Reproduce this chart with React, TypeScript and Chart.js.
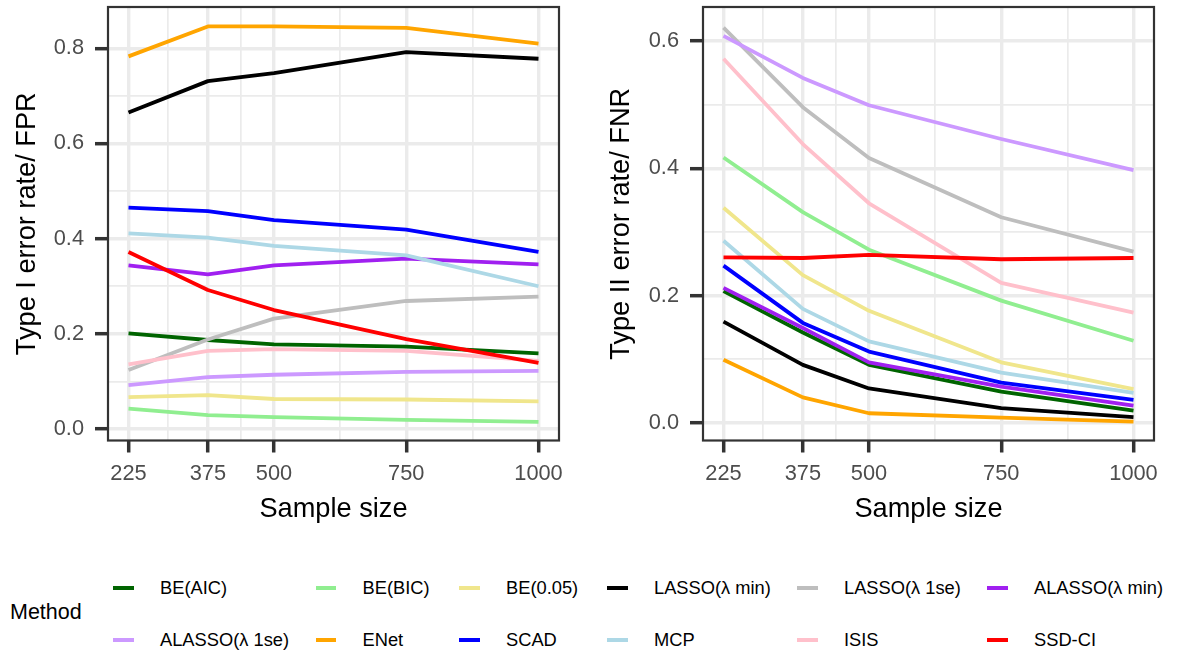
import React, { useEffect, useRef } from "react";
import { Chart, registerables } from "chart.js";

Chart.register(...registerables);

// ---------- data ----------
const sampleSizes = [225, 375, 500, 750, 1000];
const xMinorTicks = [300, 437.5, 625, 875];

const methodNames = [
  "BE(AIC)",
  "BE(BIC)",
  "BE(0.05)",
  "LASSO(λ min)",
  "LASSO(λ 1se)",
  "ALASSO(λ min)",
  "ALASSO(λ 1se)",
  "ENet",
  "SCAD",
  "MCP",
  "ISIS",
  "SSD-CI",
];

const methodColors = [
  "#006400",
  "#90EE90",
  "#F0E68C",
  "#000000",
  "#BEBEBE",
  "#A020F0",
  "#CC99FF",
  "#FFA500",
  "#0000FF",
  "#ADD8E6",
  "#FFC0CB",
  "#FF0000",
];

// Type I error rate / FPR
const fprBEAIC = [0.201, 0.187, 0.178, 0.173, 0.159];
const fprBEBIC = [0.043, 0.029, 0.025, 0.019, 0.015];
const fprBE005 = [0.067, 0.071, 0.063, 0.062, 0.058];
const fprLassoMin = [0.665, 0.731, 0.748, 0.792, 0.778];
const fprLasso1se = [0.124, 0.188, 0.232, 0.269, 0.278];
const fprAlassoMin = [0.344, 0.325, 0.344, 0.358, 0.346];
const fprAlasso1se = [0.092, 0.109, 0.114, 0.12, 0.122];
const fprENet = [0.783, 0.846, 0.846, 0.843, 0.81];
const fprSCAD = [0.465, 0.458, 0.439, 0.419, 0.372];
const fprMCP = [0.411, 0.402, 0.385, 0.365, 0.3];
const fprISIS = [0.136, 0.164, 0.168, 0.164, 0.143];
const fprSSDCI = [0.372, 0.292, 0.25, 0.189, 0.139];

// Type II error rate / FNR
const fnrBEAIC = [0.207, 0.142, 0.091, 0.049, 0.019];
const fnrBEBIC = [0.417, 0.331, 0.272, 0.192, 0.129];
const fnrBE005 = [0.338, 0.232, 0.176, 0.095, 0.053];
const fnrLassoMin = [0.159, 0.091, 0.054, 0.023, 0.009];
const fnrLasso1se = [0.621, 0.496, 0.416, 0.323, 0.269];
const fnrAlassoMin = [0.212, 0.149, 0.095, 0.057, 0.027];
const fnrAlasso1se = [0.608, 0.542, 0.499, 0.446, 0.397];
const fnrENet = [0.099, 0.04, 0.015, 0.008, 0.002];
const fnrSCAD = [0.247, 0.157, 0.112, 0.063, 0.036];
const fnrMCP = [0.286, 0.179, 0.128, 0.079, 0.047];
const fnrISIS = [0.572, 0.438, 0.345, 0.22, 0.173];
const fnrSSDCI = [0.26, 0.259, 0.264, 0.257, 0.259];

const fprSeries = [
  fprBEAIC, fprBEBIC, fprBE005, fprLassoMin, fprLasso1se, fprAlassoMin,
  fprAlasso1se, fprENet, fprSCAD, fprMCP, fprISIS, fprSSDCI,
];
const fnrSeries = [
  fnrBEAIC, fnrBEBIC, fnrBE005, fnrLassoMin, fnrLasso1se, fnrAlassoMin,
  fnrAlasso1se, fnrENet, fnrSCAD, fnrMCP, fnrISIS, fnrSSDCI,
];

const fprYTicks = [0, 0.2, 0.4, 0.6, 0.8];
const fnrYTicks = [0, 0.2, 0.4, 0.6];

// ---------- styling ----------
const FONT = "'Liberation Sans', Arial, Helvetica, sans-serif";
const GRID = "#EBEBEB";
const DARK = "#333333";
const TICK_TXT = "#4D4D4D";
const TICK_SIZE = 21.8;
const TITLE_SIZE = 27.2;

const near = (a: number, b: number) => Math.abs(a - b) < 1e-9;

const borderPlugin = {
  id: "panelBorder",
  afterDraw(chart: any) {
    const { ctx, chartArea } = chart;
    const { left, top, right, bottom } = chartArea;
    ctx.save();
    ctx.strokeStyle = DARK;
    ctx.lineWidth = 2.2;
    ctx.strokeRect(left, top, right - left, bottom - top);
    ctx.restore();
  },
};

type PanelProps = {
  left: number;
  width: number;
  height: number;
  series: number[][];
  yTitle: string;
  yMajor: number[];
  yMin: number;
  yMax: number;
  yAxisWidth: number;
  yTitlePad: number;
  padRight: number;
};

function Panel(p: PanelProps) {
  const ref = useRef<HTMLCanvasElement>(null);
  useEffect(() => {
    const canvas = ref.current;
    if (!canvas) return;
    const yMinor = p.yMajor.slice(0, -1).map((v, i) => (v + p.yMajor[i + 1]) / 2);
    const yAll = [...p.yMajor, ...yMinor].sort((a, b) => a - b);
    const xAll = [...sampleSizes, ...xMinorTicks].sort((a, b) => a - b);
    const isXMajor = (v: number) => sampleSizes.some((m) => near(m, v));
    const isYMajor = (v: number) => p.yMajor.some((m) => near(m, v));
    const n = methodNames.length;

    const datasets = methodNames.map((name, i) => ({
      label: name,
      data: sampleSizes.map((x, j) => ({ x, y: p.series[i][j] })),
      borderColor: methodColors[i],
      backgroundColor: methodColors[i],
      borderWidth: 3.8,
      pointRadius: 0,
      pointHoverRadius: 0,
      tension: 0,
      fill: false,
      borderJoinStyle: "round" as const,
      order: n - 1 - i,
    }));

    const chart = new Chart(canvas, {
      type: "line",
      data: { datasets },
      plugins: [borderPlugin],
      options: {
        animation: false,
        responsive: false,
        devicePixelRatio: 1,
        layout: { padding: { top: 7, right: p.padRight, left: 0, bottom: 0 } },
        plugins: { legend: { display: false }, tooltip: { enabled: false } },
        scales: {
          x: {
            type: "linear",
            min: 186.25,
            max: 1038.75,
            bounds: "data",
            afterBuildTicks: (s: any) => {
              s.ticks = xAll.map((v) => ({ value: v }));
            },
            afterFit: (s: any) => {
              s.height = p.height - 440.5;
              s.paddingLeft = 0;
              s.paddingRight = 0;
              s.paddingTop = 0;
              s.paddingBottom = 0;
            },
            ticks: {
              autoSkip: false,
              maxRotation: 0,
              minRotation: 0,
              padding: 8.4,
              color: TICK_TXT,
              font: { family: FONT, size: TICK_SIZE },
              callback: (v: any) => (isXMajor(Number(v)) ? String(v) : ""),
            },
            grid: {
              color: GRID,
              lineWidth: (c: any) => (c.tick && isXMajor(c.tick.value) ? 3.4 : 1.7),
              drawTicks: true,
              tickLength: 12,
              tickWidth: 3.5,
              tickColor: (c: any) =>
                c.tick && isXMajor(c.tick.value) ? DARK : "rgba(0,0,0,0)",
            },
            border: { display: false },
            title: {
              display: true,
              text: "Sample size",
              color: "#000000",
              font: { family: FONT, size: TITLE_SIZE },
              padding: { top: 0, bottom: 8.7 },
            },
          },
          y: {
            type: "linear",
            min: p.yMin,
            max: p.yMax,
            bounds: "data",
            afterBuildTicks: (s: any) => {
              s.ticks = yAll.map((v) => ({ value: v }));
            },
            afterFit: (s: any) => {
              s.width = p.yAxisWidth;
              s.paddingLeft = 0;
              s.paddingRight = 0;
              s.paddingTop = 0;
              s.paddingBottom = 0;
            },
            ticks: {
              autoSkip: false,
              padding: 11,
              color: TICK_TXT,
              font: { family: FONT, size: TICK_SIZE },
              callback: (v: any) => (isYMajor(Number(v)) ? Number(v).toFixed(1) : ""),
            },
            grid: {
              color: GRID,
              lineWidth: (c: any) => (c.tick && isYMajor(c.tick.value) ? 3.4 : 1.7),
              drawTicks: true,
              tickLength: 13,
              tickWidth: 3.5,
              tickColor: (c: any) =>
                c.tick && isYMajor(c.tick.value) ? DARK : "rgba(0,0,0,0)",
            },
            border: { display: false },
            title: {
              display: true,
              text: p.yTitle,
              color: "#000000",
              font: { family: FONT, size: TITLE_SIZE },
              padding: { top: p.yTitlePad, bottom: 0 },
            },
          },
        },
      } as any,
    });
    return () => chart.destroy();
  }, []);

  return (
    <canvas
      ref={ref}
      width={p.width}
      height={p.height}
      style={{
        position: "absolute",
        left: p.left,
        top: 0,
        width: p.width,
        height: p.height,
        display: "block",
      }}
    />
  );
}

const legendKeyLefts = [113, 315.5, 459, 607, 797, 987];
const legendRowCenters = [588, 640];

export default function App() {
  return (
    <div
      style={{
        position: "absolute",
        left: 0,
        top: 0,
        width: 1179,
        height: 651,
        background: "#FFFFFF",
        overflow: "hidden",
        fontFamily: FONT,
      }}
    >
      <Panel
        left={0}
        width={590}
        height={535}
        series={fprSeries}
        yTitle="Type I error rate/ FPR"
        yMajor={fprYTicks}
        yMin={-0.0242}
        yMax={0.8868}
        yAxisWidth={108}
        yTitlePad={10.7}
        padRight={31}
      />
      <Panel
        left={590}
        width={589}
        height={535}
        series={fnrSeries}
        yTitle="Type II error rate/ FNR"
        yMajor={fnrYTicks}
        yMin={-0.0278}
        yMax={0.6534}
        yAxisWidth={113}
        yTitlePad={14.7}
        padRight={25}
      />
      <div
        style={{
          position: "absolute",
          left: 10,
          top: 613,
          transform: "translateY(-50%)",
          fontSize: 21.5,
          lineHeight: 1,
          color: "#000",
          whiteSpace: "nowrap",
        }}
      >
        Method
      </div>
      {methodNames.map((name, i) => {
        const row = Math.floor(i / 6);
        const col = i % 6;
        const kx = legendKeyLefts[col];
        const cy = legendRowCenters[row];
        return (
          <React.Fragment key={name}>
            <div
              style={{
                position: "absolute",
                left: kx,
                top: cy - 2.15,
                width: 20.5,
                height: 4.3,
                background: methodColors[i],
              }}
            />
            <div
              style={{
                position: "absolute",
                left: kx + 47,
                top: cy,
                transform: "translateY(-50%)",
                fontSize: 18.3,
                lineHeight: 1,
                color: "#000",
                whiteSpace: "nowrap",
              }}
            >
              {name}
            </div>
          </React.Fragment>
        );
      })}
    </div>
  );
}
